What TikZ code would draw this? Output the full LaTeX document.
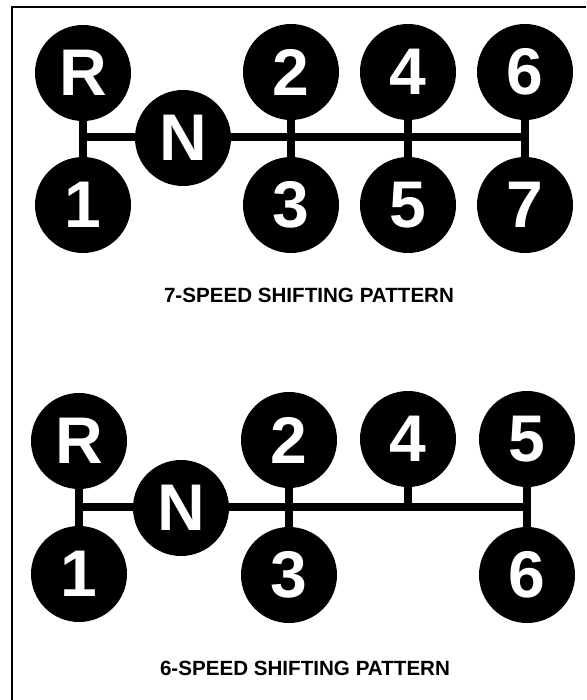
\documentclass[tikz,border=0pt]{standalone}
\usepackage{fontspec}
\setmainfont{Liberation Sans}
\begin{document}
\begin{tikzpicture}[x=1pt,y=-1pt,
  gear/.style={circle, fill=black, minimum size=96pt, inner sep=0pt, text=white,
    font=\fontsize{66}{66}\selectfont\bfseries},
  rail/.style={line width=8pt},
  caption/.style={font=\fontsize{20.6}{20.6}\selectfont\bfseries},
  frame/.style={line width=2.5pt, line join=miter}]
\useasboundingbox (0,0) rectangle (586,700);
\draw[frame] (12,700) -- (12,7) -- (586,7);

% 7-speed
\node[gear] (R) at (83,73) {R};
\node[gear] (N) at (183,138) {N};
\node[gear] (g1) at (83,205) {1};
\node[gear] (g2) at (291,72) {2};
\node[gear] (g3) at (291,205) {3};
\node[gear] (g4) at (408,72) {4};
\node[gear] (g5) at (408,205) {5};
\node[gear] (g6) at (525,72) {6};
\node[gear] (g7) at (525,205) {7};
\coordinate (jl) at (84,137.5);
\coordinate (jr) at (526,137.5);
\draw[rail] (R) -- (g1);
\draw[rail] (g2) -- (g3);
\draw[rail] (g4) -- (g5);
\draw[rail] (g6) -- (g7);
\draw[rail] (jl) -- (jl -| N.west);
\draw[rail] (jr -| N.east) -- (jr);
\node[caption] (c7) at (309,295) {7-SPEED SHIFTING PATTERN};

% 6-speed
\node[gear] (bR) at (79,441) {R};
\node[gear] (bN) at (181,508) {N};
\node[gear] (b1) at (79,574) {1};
\node[gear] (b2) at (289,440) {2};
\node[gear] (b3) at (289,575) {3};
\node[gear] (b4) at (408,439) {4};
\node[gear] (b5) at (527,439) {5};
\node[gear] (b6) at (527,575) {6};
\coordinate (bjl) at (79,506.5);
\coordinate (bjr) at (527,506.5);
\draw[rail] (bR) -- (b1);
\draw[rail] (b2) -- (b3);
\draw[rail] (b5) -- (b6);
\draw[rail] (b4) -- (b4 |- bjr);
\draw[rail] (bjl) -- (bjl -| bN.west);
\draw[rail] (bjr -| bN.east) -- (bjr);
\node[caption] (c6) at (305,668.5) {6-SPEED SHIFTING PATTERN};
\end{tikzpicture}
\end{document}
